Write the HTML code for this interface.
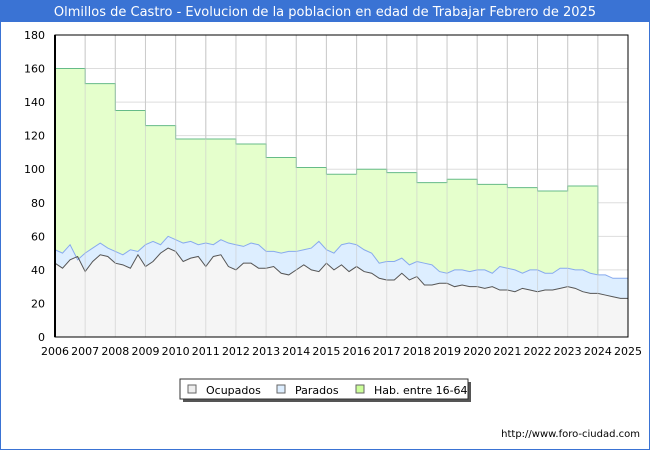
<!DOCTYPE html>
<html><head><meta charset="utf-8"><style>
body{margin:0;background:#fff;font-family:"DejaVu Sans","Liberation Sans",sans-serif;}
#wrap{position:relative;width:650px;height:450px;overflow:hidden;}
</style></head><body>
<div id="wrap">
<svg id="svg" width="650" height="450" xmlns="http://www.w3.org/2000/svg" font-family="DejaVu Sans, Liberation Sans, sans-serif">
<rect x="0" y="0" width="650" height="450" fill="#fff" stroke="#3a73d4" stroke-width="2"/>
<rect x="0" y="0" width="650" height="22" fill="#3a73d4"/>
<text x="325" y="16" text-anchor="middle" font-size="13" fill="#fff">Olmillos de Castro - Evolucion de la poblacion en edad de Trabajar Febrero de 2025</text>
<g id="grid"></g><g id="series"></g><g id="axes"></g>
<g>
<rect x="183" y="382" width="288" height="20" fill="#555"/>
<rect x="180" y="379" width="288" height="20" fill="#fff" stroke="#333"/>
<rect x="188" y="385" width="8" height="8" fill="#eee" stroke="#666"/>
<text x="206" y="394" font-size="11">Ocupados</text>
<rect x="277" y="385" width="8" height="8" fill="#ddeeff" stroke="#666"/>
<text x="295" y="394" font-size="11">Parados</text>
<rect x="356" y="385" width="8" height="8" fill="#ccff99" stroke="#666"/>
<text x="374" y="394" font-size="11">Hab. entre 16-64</text>
</g>
<text x="640" y="437" text-anchor="end" font-size="10">http://www.foro-ciudad.com</text>
</svg></div>
<script>
const years=[2006,2007,2008,2009,2010,2011,2012,2013,2014,2015,2016,2017,2018,2019,2020,2021,2022,2023,2024,2025];
const yTicks=[0,20,40,60,80,100,120,140,160,180];
const hab=[160,151,135,126,118,118,115,107,101,97,100,98,92,94,91,89,87,90];
const parados=[52,50,55,46,50,53,56,53,51,49,52,51,55,57,55,60,58,56,57,55,56,55,58,56,55,54,56,55,51,51,50,51,51,52,53,57,52,50,55,56,55,52,50,44,45,45,47,43,45,44,43,39,38,40,40,39,40,40,38,42,41,40,38,40,40,38,38,41,41,40,40,38,37,37,35,35,35];
const ocupados=[44,41,46,48,39,45,49,48,44,43,41,49,42,45,50,53,51,45,47,48,42,48,49,42,40,44,44,41,41,42,38,37,40,43,40,39,44,40,43,39,42,39,38,35,34,34,38,34,36,31,31,32,32,30,31,30,30,29,30,28,28,27,29,28,27,28,28,29,30,29,27,26,26,25,24,23,23];
const X0=55,X1=628,Y0=337,Y1=35;
const xs=t=>X0+(t-2006)/(2025-2006)*(X1-X0);
const ys=v=>Y0-v/180*(Y0-Y1);
const NS='http://www.w3.org/2000/svg';
function mk(tag,attrs,parent){const e=document.createElementNS(NS,tag);for(const k in attrs)e.setAttribute(k,attrs[k]);parent.appendChild(e);return e;}
const grid=document.getElementById('grid'),ser=document.getElementById('series'),ax=document.getElementById('axes');
yTicks.forEach(v=>{const l=mk('line',{x1:X0,x2:X1,y1:ys(v),y2:ys(v),stroke:'#ddd'},grid);

const t=mk('text',{x:X0-10,y:ys(v)+4,'text-anchor':'end','font-size':11},ax);t.textContent=v;
});
years.forEach(y=>{const l=mk('line',{x1:xs(y),x2:xs(y),y1:Y1,y2:Y0,stroke:'#ccc'},grid);

const t=mk('text',{x:xs(y),y:Y0+18,'text-anchor':'middle','font-size':11},ax);t.textContent=y;
});
// hab step path
let hp='M'+xs(2006)+','+ys(0);
hab.forEach((v,i)=>{hp+=' L'+xs(2006+i)+','+ys(v)+' L'+xs(2007+i)+','+ys(v);});
const hl=hab.length;
let hpEnd=' L'+xs(2006+hl)+','+ys(parados[hl*4])+' L'+xs(2006+hl)+','+ys(0)+'Z';
const ha=mk('path',{d:hp+hpEnd,fill:'#e5ffcc',stroke:'none'},ser);

const hln=mk('path',{d:hp.replace(/^M[^L]*/,'M'+xs(2006)+','+ys(hab[0]))+' L'+xs(2006+hl)+','+ys(parados[hl*4]),fill:'none',stroke:'#66bb88','stroke-width':1},ser);

function pts(arr){return arr.map((v,i)=>xs(2006+i*0.25)+','+ys(v)).join(' L');}
const base=' L'+xs(2025)+','+ys(0)+' L'+xs(2006)+','+ys(0)+'Z';
const pa=mk('path',{d:'M'+pts(parados)+base,fill:'#ddeeff'},ser);

const oa=mk('path',{d:'M'+pts(ocupados)+base,fill:'#f5f5f5'},ser);

const pl=mk('path',{d:'M'+pts(parados),fill:'none',stroke:'#88aaee','stroke-width':1},ser);

const ol=mk('path',{d:'M'+pts(ocupados),fill:'none',stroke:'#555','stroke-width':1},ser);

// re-draw grid over areas lightly
years.forEach(y=>{const l=mk('line',{x1:xs(y),x2:xs(y),y1:Y1,y2:Y0,stroke:'#ccc','stroke-opacity':0.6},ser);
});
const a1=mk('rect',{x:X0,y:Y1,width:X1-X0,height:Y0-Y1,fill:'none',stroke:'#000','stroke-width':1},ax);

const a2=mk('line',{x1:X0,x2:X0,y1:Y1,y2:Y0,stroke:'#000','stroke-width':2},ax);

</script>
</body></html>
